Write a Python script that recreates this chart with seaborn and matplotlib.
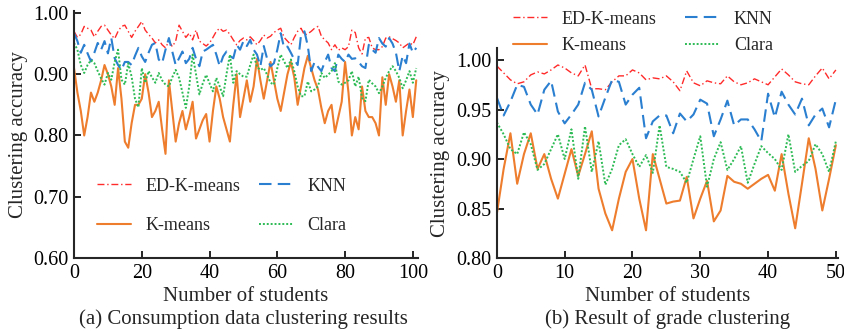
import matplotlib

matplotlib.use("Agg")
import matplotlib.pyplot as plt
import numpy as np
import pandas as pd
import seaborn as sns

# (a) consumption data, students 0..101
kmeans_a = [
    0.91, 0.87, 0.84, 0.80, 0.83, 0.87, 0.855, 0.87, 0.89, 0.915,
    0.90, 0.88, 0.85, 0.91, 0.86, 0.79, 0.78, 0.82, 0.85, 0.85,
    0.86, 0.90, 0.87, 0.83, 0.84, 0.855, 0.81, 0.77, 0.89, 0.84,
    0.79, 0.82, 0.84, 0.81, 0.83, 0.855, 0.795, 0.81, 0.825, 0.835,
    0.79, 0.84, 0.88, 0.86, 0.83, 0.81, 0.79, 0.85, 0.90, 0.83,
    0.86, 0.89, 0.855, 0.88, 0.925, 0.89, 0.86, 0.89, 0.92, 0.89,
    0.86, 0.84, 0.87, 0.90, 0.92, 0.895, 0.85, 0.88, 0.91, 0.93,
    0.91, 0.89, 0.875, 0.845, 0.82, 0.84, 0.85, 0.805, 0.83, 0.855,
    0.92, 0.87, 0.80, 0.83, 0.81, 0.88, 0.84, 0.83, 0.83, 0.82,
    0.80, 0.895, 0.85, 0.90, 0.88, 0.855, 0.89, 0.80, 0.84, 0.875,
    0.83, 0.89,
]
edkm_a = [
    0.97, 0.96, 0.965, 0.978, 0.975, 0.972, 0.961, 0.97, 0.978, 0.98,
    0.972, 0.964, 0.958, 0.97, 0.978, 0.98, 0.97, 0.96, 0.97, 0.978,
    0.986, 0.972, 0.965, 0.959, 0.951, 0.956, 0.948, 0.943, 0.954, 0.945,
    0.954, 0.98, 0.97, 0.96, 0.967, 0.956, 0.972, 0.954, 0.95, 0.946,
    0.951, 0.96, 0.97, 0.975, 0.97, 0.972, 0.965, 0.956, 0.948, 0.955,
    0.959, 0.956, 0.961, 0.955, 0.948, 0.955, 0.964, 0.959, 0.962, 0.968,
    0.972, 0.975, 0.96, 0.954, 0.948, 0.96, 0.97, 0.975, 0.964, 0.966,
    0.97, 0.975, 0.978, 0.962, 0.956, 0.951, 0.94, 0.948, 0.939, 0.943,
    0.94, 0.945, 0.972, 0.968, 0.943, 0.933, 0.959, 0.96, 0.943, 0.94,
    0.94, 0.945, 0.959, 0.961, 0.958, 0.955, 0.951, 0.943, 0.947, 0.951,
    0.948, 0.961,
]
knn_a = [
    0.967, 0.954, 0.935, 0.948, 0.934, 0.921, 0.935, 0.951, 0.94, 0.954,
    0.934, 0.959, 0.926, 0.915, 0.907, 0.92, 0.92, 0.915, 0.93, 0.943,
    0.929, 0.92, 0.935, 0.948, 0.951, 0.924, 0.918, 0.94, 0.959, 0.937,
    0.915, 0.926, 0.937, 0.918, 0.925, 0.943, 0.925, 0.913, 0.937, 0.94,
    0.944, 0.948, 0.932, 0.913, 0.929, 0.937, 0.93, 0.926, 0.948, 0.94,
    0.954, 0.946, 0.956, 0.94, 0.932, 0.913, 0.946, 0.925, 0.913, 0.918,
    0.94, 0.967, 0.943, 0.945, 0.935, 0.924, 0.915, 0.964, 0.97, 0.946,
    0.905, 0.92, 0.912, 0.905, 0.92, 0.932, 0.91, 0.905, 0.932, 0.925,
    0.92, 0.932, 0.925, 0.926, 0.92, 0.913, 0.91, 0.948, 0.94, 0.935,
    0.959, 0.95, 0.945, 0.959, 0.95, 0.935, 0.905, 0.93, 0.918, 0.95,
    0.935, 0.943,
]
clara_a = [
    0.951, 0.94, 0.915, 0.902, 0.915, 0.923, 0.918, 0.905, 0.893, 0.883,
    0.902, 0.891, 0.92, 0.94, 0.891, 0.883, 0.918, 0.896, 0.86, 0.846,
    0.91, 0.886, 0.905, 0.895, 0.886, 0.902, 0.89, 0.883, 0.88, 0.895,
    0.907, 0.894, 0.87, 0.845, 0.88, 0.932, 0.90, 0.867, 0.885, 0.899,
    0.885, 0.872, 0.894, 0.88, 0.864, 0.90, 0.932, 0.886, 0.905, 0.90,
    0.896, 0.896, 0.915, 0.932, 0.912, 0.907, 0.91, 0.899, 0.886, 0.883,
    0.91, 0.932, 0.921, 0.91, 0.924, 0.905, 0.88, 0.864, 0.864, 0.888,
    0.872, 0.875, 0.88, 0.902, 0.894, 0.899, 0.905, 0.918, 0.888, 0.883,
    0.886, 0.89, 0.905, 0.88, 0.896, 0.861, 0.856, 0.891, 0.885, 0.88,
    0.869, 0.88, 0.894, 0.905, 0.913, 0.905, 0.894, 0.877, 0.89, 0.905,
    0.886, 0.91,
]

# (b) grade data, students 0..50
edkm_b = [
    0.994, 0.987, 0.98, 0.976, 0.978, 0.985, 0.988, 0.986, 0.99, 0.995,
    0.992, 0.987, 0.984, 0.995, 0.971, 0.971, 0.97, 0.978, 0.984, 0.984,
    0.99, 0.987, 0.98, 0.982, 0.981, 0.984, 0.978, 0.969, 0.989, 0.977,
    0.974, 0.979, 0.977, 0.976, 0.984, 0.978, 0.975, 0.977, 0.981, 0.978,
    0.975, 0.983, 0.991, 0.985, 0.978, 0.976, 0.975, 0.984, 0.992, 0.981,
    0.99,
]
knn_b = [
    0.962, 0.944, 0.958, 0.975, 0.973, 0.955, 0.945, 0.97, 0.979, 0.948,
    0.936, 0.945, 0.955, 0.977, 0.97, 0.943, 0.962, 0.98, 0.978, 0.955,
    0.965, 0.972, 0.921, 0.938, 0.944, 0.944, 0.926, 0.946, 0.938, 0.945,
    0.96, 0.956, 0.923, 0.94, 0.959, 0.934, 0.94, 0.94, 0.93, 0.918,
    0.966, 0.942, 0.968, 0.955, 0.945, 0.961, 0.934, 0.945, 0.951, 0.932,
    0.96,
]
kmeans_b = [
    0.845, 0.89, 0.926, 0.875, 0.905, 0.926, 0.89, 0.905, 0.88, 0.86,
    0.885, 0.91, 0.883, 0.905, 0.928, 0.87, 0.845, 0.828, 0.86, 0.887,
    0.90, 0.86, 0.828, 0.905, 0.88, 0.855, 0.857, 0.858, 0.882, 0.84,
    0.86, 0.878, 0.837, 0.848, 0.883, 0.877, 0.875, 0.87, 0.875, 0.88,
    0.884, 0.868, 0.905, 0.865, 0.83, 0.875, 0.921, 0.89, 0.848, 0.88,
    0.914,
]
clara_b = [
    0.937, 0.925, 0.91, 0.905, 0.927, 0.915, 0.889, 0.895, 0.91, 0.925,
    0.90, 0.93, 0.88, 0.933, 0.887, 0.918, 0.874, 0.89, 0.914, 0.92,
    0.905, 0.892, 0.904, 0.886, 0.934, 0.892, 0.89, 0.887, 0.876, 0.90,
    0.923, 0.872, 0.90, 0.917, 0.889, 0.90, 0.913, 0.876, 0.895, 0.913,
    0.906, 0.90, 0.889, 0.925, 0.887, 0.893, 0.898, 0.915, 0.905, 0.887,
    0.918,
]

# legend order: ED-K-means, K-means | KNN, Clara (two columns)
STYLES = {
    "ED-K-means": dict(color="#ff2a2a", lw=1.0, ls=(0, (5, 2, 1, 2))),
    "K-means": dict(color="#ee7d2e", lw=1.5, ls="-"),
    "KNN": dict(color="#2a7fd0", lw=1.5, ls=(0, (6, 3))),
    "Clara": dict(color="#2dbb55", lw=1.4, ls=(0, (1, 1))),
}

sns.set_style("ticks")
plt.rcParams["font.family"] = ["Liberation Serif", "DejaVu Serif"]
plt.rcParams["font.size"] = 13
plt.rcParams["xtick.direction"] = "in"
plt.rcParams["ytick.direction"] = "in"


def draw(ax, series):
    for name in STYLES:
        y = series[name]
        df = pd.DataFrame({"x": np.arange(len(y)), "acc": y})
        st = STYLES[name]
        sns.lineplot(data=df, x="x", y="acc", ax=ax, color=st["color"],
                     linewidth=st["lw"], linestyle=st["ls"], label=name)
    sns.despine(ax=ax)
    ax.spines["left"].set_linewidth(1.5)
    ax.spines["bottom"].set_linewidth(1.5)
    ax.tick_params(length=5, width=1.2, labelsize=14.5, colors="black", pad=4)
    ax.set_ylabel("Clustering accuracy", fontsize=15, labelpad=4)
    ax.set_xlabel("Number of students", fontsize=15, labelpad=3)


fig = plt.figure(figsize=(8.45, 3.31), dpi=100)
ax1 = fig.add_axes([0.0876, 0.2205, 0.407, 0.746])
ax2 = fig.add_axes([0.588, 0.2205, 0.4036, 0.634])

draw(ax1, {"ED-K-means": edkm_a, "K-means": kmeans_a, "KNN": knn_a, "Clara": clara_a})
ax1.set_xlim(0, 101.5)
ax1.set_ylim(0.6, 1.003)
ax1.set_xticks([0, 20, 40, 60, 80, 100])
ax1.set_yticks([0.6, 0.7, 0.8, 0.9, 1.0])
ax1.yaxis.set_major_formatter(matplotlib.ticker.FormatStrFormatter("%.2f"))
ax1.legend(loc="lower left", bbox_to_anchor=(0.02, 0.03), ncol=2, frameon=False,
           fontsize=13, handlelength=1.9, handletextpad=0.8, columnspacing=1.0,
           labelspacing=1.25)

draw(ax2, {"ED-K-means": edkm_b, "K-means": kmeans_b, "KNN": knn_b, "Clara": clara_b})
ax2.set_xlim(0, 50.3)
ax2.set_ylim(0.8, 1.012)
ax2.set_xticks([0, 10, 20, 30, 40, 50])
ax2.set_yticks([0.8, 0.85, 0.9, 0.95, 1.0])
ax2.yaxis.set_major_formatter(matplotlib.ticker.FormatStrFormatter("%.2f"))
ax2.legend(loc="upper left", bbox_to_anchor=(0.598, 0.99), bbox_transform=fig.transFigure,
           ncol=2, frameon=False, fontsize=13, handlelength=1.9, handletextpad=0.8,
           columnspacing=1.6, labelspacing=0.55, borderaxespad=0.0)

fig.text(0.288, 0.035, "(a) Consumption data clustering results", ha="center",
         va="center", fontsize=15)
fig.text(0.79, 0.035, "(b) Result of grade clustering", ha="center",
         va="center", fontsize=15)

fig.savefig("out.png", dpi=100)
